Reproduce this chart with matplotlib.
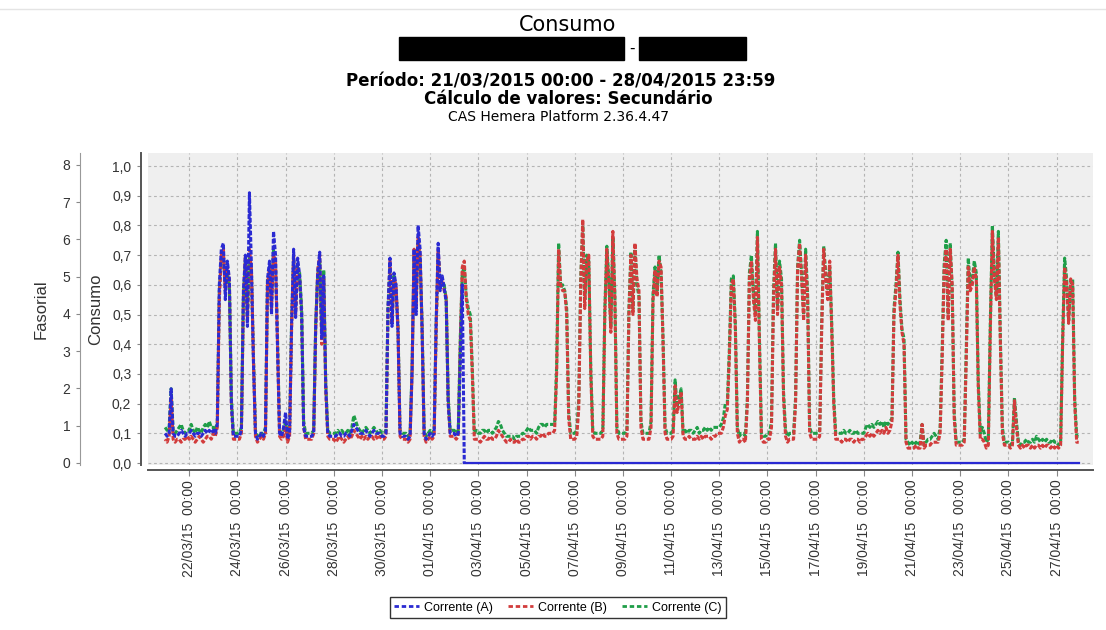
import numpy as np
import pandas as pd
import matplotlib
matplotlib.use("Agg")
import matplotlib.pyplot as plt
from matplotlib.patches import Rectangle
from matplotlib.ticker import FuncFormatter, MultipleLocator, FixedFormatter

# Consumo a cada 2 horas, em centesimos, uma linha por dia (00h, 02h, ... 22h)
inicio = "2015-03-21 00:00"

corrente_b = [
    [8, 7, 9, 22, 8, 7, 8, 8, 7, 8, 8, 9],          # 21/03
    [8, 9, 8, 7, 8, 9, 8, 7, 8, 9, 9, 8],           # 22/03
    [10, 9, 12, 55, 70, 72, 58, 66, 62, 20, 8, 8],  # 23/03
    [8, 8, 10, 55, 70, 48, 72, 65, 35, 9, 7, 8],    # 24/03
    [9, 8, 10, 60, 66, 52, 70, 68, 40, 9, 8, 9],    # 25/03
    [12, 7, 9, 45, 70, 50, 67, 62, 50, 12, 8, 8],   # 26/03
    [8, 8, 10, 45, 65, 70, 40, 62, 25, 9, 8, 8],    # 27/03
    [8, 7, 8, 9, 8, 7, 8, 9, 8, 9, 11, 10],         # 28/03
    [9, 8, 9, 8, 9, 8, 9, 9, 8, 9, 8, 9],           # 29/03
    [8, 8, 9, 50, 68, 47, 62, 60, 45, 9, 8, 8],     # 30/03
    [8, 7, 8, 30, 72, 52, 76, 70, 45, 9, 7, 8],     # 31/03
    [9, 8, 9, 45, 72, 60, 62, 58, 56, 20, 9, 9],    # 01/04
    [9, 8, 9, 40, 66, 68, 55, 50, 48, 30, 8, 8],    # 02/04
    [8, 7, 8, 9, 8, 8, 9, 8, 8, 9, 11, 10],         # 03/04
    [9, 8, 7, 7, 8, 7, 7, 8, 7, 7, 8, 8],           # 04/04
    [9, 9, 8, 9, 9, 8, 9, 9, 10, 9, 9, 10],         # 05/04
    [10, 10, 11, 30, 72, 60, 58, 58, 50, 15, 8, 8], # 06/04
    [8, 9, 18, 60, 82, 52, 68, 70, 30, 9, 8, 8],    # 07/04
    [8, 8, 9, 50, 72, 60, 44, 78, 55, 10, 8, 8],    # 08/04
    [8, 8, 9, 50, 70, 50, 74, 62, 58, 12, 8, 8],    # 09/04
    [8, 8, 12, 55, 65, 56, 68, 66, 40, 10, 8, 8],   # 10/04
    [8, 9, 26, 17, 20, 24, 9, 8, 8, 9, 8, 8],       # 11/04
    [8, 9, 8, 9, 8, 9, 9, 9, 8, 9, 9, 10],          # 12/04
    [10, 10, 12, 16, 18, 35, 60, 62, 45, 10, 7, 8], # 13/04
    [8, 7, 20, 62, 68, 55, 48, 76, 40, 8, 7, 7],    # 14/04
    [8, 8, 12, 55, 72, 50, 66, 60, 22, 9, 7, 8],    # 15/04
    [8, 8, 20, 65, 74, 62, 48, 70, 55, 10, 8, 8],   # 16/04
    [8, 8, 9, 45, 72, 62, 55, 68, 45, 20, 8, 8],    # 17/04
    [8, 7, 8, 8, 7, 8, 8, 7, 8, 8, 7, 8],           # 18/04
    [8, 9, 10, 9, 10, 9, 10, 11, 10, 11, 10, 12],   # 19/04
    [10, 11, 14, 50, 58, 70, 53, 44, 40, 7, 5, 5],  # 20/04
    [5, 5, 6, 5, 5, 13, 5, 6, 6, 6, 7, 7],          # 21/04
    [7, 7, 10, 35, 65, 72, 48, 72, 60, 15, 6, 6],   # 22/04
    [6, 6, 7, 35, 66, 58, 60, 66, 62, 25, 8, 8],    # 23/04
    [7, 5, 6, 45, 78, 62, 55, 76, 40, 10, 6, 6],    # 24/04
    [6, 5, 6, 21, 12, 6, 5, 6, 5, 6, 6, 5],         # 25/04
    [6, 5, 6, 6, 5, 6, 5, 6, 6, 5, 6, 5],           # 26/04
    [6, 5, 6, 40, 66, 60, 47, 62, 60, 20, 7, 7],    # 27/04
]

corrente_c = [
    [12, 11, 12, 25, 11, 10, 11, 12, 13, 11, 10, 11],
    [11, 13, 11, 10, 12, 11, 10, 12, 13, 12, 14, 12],
    [12, 11, 14, 58, 68, 70, 60, 64, 60, 22, 10, 10],
    [10, 10, 12, 56, 69, 50, 70, 64, 36, 11, 9, 10],
    [10, 10, 12, 62, 64, 55, 72, 66, 42, 11, 10, 11],
    [14, 9, 11, 48, 69, 52, 66, 64, 52, 14, 10, 10],
    [10, 10, 11, 47, 63, 68, 45, 65, 27, 11, 10, 10],
    [10, 10, 11, 10, 11, 10, 10, 11, 10, 12, 16, 14],
    [12, 11, 10, 11, 12, 11, 10, 11, 12, 11, 10, 11],
    [10, 10, 11, 52, 66, 50, 63, 58, 46, 11, 10, 10],
    [10, 9, 10, 32, 70, 55, 74, 68, 47, 11, 9, 10],
    [11, 10, 11, 47, 70, 62, 60, 60, 55, 22, 11, 11],
    [11, 10, 11, 42, 64, 66, 56, 52, 50, 32, 10, 11],
    [10, 10, 11, 11, 10, 11, 11, 10, 11, 12, 14, 13],
    [11, 10, 9, 9, 9, 9, 8, 9, 9, 9, 10, 10],
    [11, 12, 11, 11, 11, 10, 12, 13, 13, 12, 13, 13],
    [13, 13, 13, 33, 74, 59, 60, 58, 52, 17, 10, 10],
    [10, 11, 21, 62, 80, 55, 70, 68, 32, 11, 10, 10],
    [10, 10, 11, 52, 73, 62, 46, 76, 57, 12, 10, 10],
    [10, 10, 11, 52, 71, 52, 72, 60, 56, 14, 10, 10],
    [10, 10, 14, 57, 66, 58, 70, 64, 42, 12, 10, 10],
    [10, 11, 28, 19, 22, 25, 10, 11, 10, 11, 11, 10],
    [11, 12, 10, 11, 11, 12, 11, 12, 11, 12, 12, 12],
    [12, 13, 15, 20, 20, 38, 62, 63, 47, 12, 9, 10],
    [10, 9, 22, 64, 70, 57, 50, 78, 42, 10, 9, 9],
    [10, 10, 14, 58, 74, 52, 68, 62, 24, 11, 9, 10],
    [10, 10, 22, 66, 75, 64, 50, 72, 57, 12, 10, 10],
    [10, 10, 11, 47, 73, 64, 57, 66, 47, 22, 10, 10],
    [10, 10, 11, 10, 10, 11, 10, 10, 11, 10, 10, 10],
    [10, 12, 13, 12, 13, 12, 13, 14, 13, 14, 12, 14],
    [13, 14, 15, 52, 60, 71, 55, 45, 42, 8, 7, 6],
    [7, 6, 7, 6, 7, 13, 6, 7, 8, 8, 9, 10],
    [9, 8, 12, 38, 67, 75, 50, 74, 58, 17, 7, 7],
    [7, 7, 8, 38, 69, 60, 62, 68, 64, 27, 10, 12],
    [10, 7, 8, 48, 80, 64, 56, 78, 42, 12, 7, 7],
    [7, 6, 7, 22, 14, 7, 6, 7, 7, 8, 7, 7],
    [8, 7, 9, 8, 7, 8, 7, 8, 7, 7, 8, 7],
    [7, 6, 7, 42, 69, 62, 48, 60, 62, 22, 9, 9],
]

# fase A deixa de medir na manha de 02/04
corrente_a = [
    [10, 9, 10, 25, 10, 9, 9, 10, 11, 10, 9, 10],
    [10, 11, 10, 9, 10, 10, 9, 10, 11, 10, 11, 10],
    [11, 10, 13, 60, 72, 74, 55, 68, 62, 20, 9, 9],
    [9, 9, 11, 58, 70, 46, 91, 66, 34, 10, 8, 9],
    [10, 9, 11, 62, 68, 50, 78, 70, 38, 10, 9, 12],
    [17, 8, 10, 47, 72, 49, 69, 63, 50, 12, 9, 9],
    [9, 9, 10, 46, 64, 71, 42, 63, 26, 10, 9, 9],
    [9, 9, 10, 10, 9, 9, 10, 10, 9, 11, 13, 12],
    [11, 10, 10, 10, 11, 10, 9, 10, 11, 10, 10, 10],
    [9, 9, 10, 52, 69, 46, 64, 60, 44, 10, 9, 9],
    [9, 8, 9, 31, 72, 50, 80, 72, 44, 10, 8, 9],
    [10, 9, 10, 48, 74, 58, 63, 59, 54, 20, 10, 10],
    [10, 9, 10, 35, 60, 0, 0, 0, 0, 0, 0, 0],
    [0, 0, 0, 0, 0, 0, 0, 0, 0, 0, 0, 0],
    [0, 0, 0, 0, 0, 0, 0, 0, 0, 0, 0, 0],
    [0, 0, 0, 0, 0, 0, 0, 0, 0, 0, 0, 0],
    [0, 0, 0, 0, 0, 0, 0, 0, 0, 0, 0, 0],
    [0, 0, 0, 0, 0, 0, 0, 0, 0, 0, 0, 0],
    [0, 0, 0, 0, 0, 0, 0, 0, 0, 0, 0, 0],
    [0, 0, 0, 0, 0, 0, 0, 0, 0, 0, 0, 0],
    [0, 0, 0, 0, 0, 0, 0, 0, 0, 0, 0, 0],
    [0, 0, 0, 0, 0, 0, 0, 0, 0, 0, 0, 0],
    [0, 0, 0, 0, 0, 0, 0, 0, 0, 0, 0, 0],
    [0, 0, 0, 0, 0, 0, 0, 0, 0, 0, 0, 0],
    [0, 0, 0, 0, 0, 0, 0, 0, 0, 0, 0, 0],
    [0, 0, 0, 0, 0, 0, 0, 0, 0, 0, 0, 0],
    [0, 0, 0, 0, 0, 0, 0, 0, 0, 0, 0, 0],
    [0, 0, 0, 0, 0, 0, 0, 0, 0, 0, 0, 0],
    [0, 0, 0, 0, 0, 0, 0, 0, 0, 0, 0, 0],
    [0, 0, 0, 0, 0, 0, 0, 0, 0, 0, 0, 0],
    [0, 0, 0, 0, 0, 0, 0, 0, 0, 0, 0, 0],
    [0, 0, 0, 0, 0, 0, 0, 0, 0, 0, 0, 0],
    [0, 0, 0, 0, 0, 0, 0, 0, 0, 0, 0, 0],
    [0, 0, 0, 0, 0, 0, 0, 0, 0, 0, 0, 0],
    [0, 0, 0, 0, 0, 0, 0, 0, 0, 0, 0, 0],
    [0, 0, 0, 0, 0, 0, 0, 0, 0, 0, 0, 0],
    [0, 0, 0, 0, 0, 0, 0, 0, 0, 0, 0, 0],
    [0, 0, 0, 0, 0, 0, 0, 0, 0, 0, 0, 0],
]

nomes = ["Corrente (A)", "Corrente (B)", "Corrente (C)"]
cores = ["#2a2ad2", "#d23c3c", "#1f9e48"]

titulo = "Consumo"
periodo = "Período: 21/03/2015 00:00 - 28/04/2015 23:59"
calculo = "Cálculo de valores: Secundário"
plataforma = "CAS Hemera Platform 2.36.4.47"

W, H = 1106, 630

a = np.array(corrente_a).ravel() / 100.0
b = np.array(corrente_b).ravel() / 100.0
c = np.array(corrente_c).ravel() / 100.0
t = pd.date_range(inicio, periods=len(b), freq="2h")

fig = plt.figure(figsize=(W / 100, H / 100), dpi=100)
fig.patch.set_facecolor("white")

def fx(px):
    return px / W

def fy(py):
    return 1 - py / H

# area do grafico
ax = fig.add_axes([fx(148), fy(465), fx(1093 - 148), (465 - 153) / H])
ax.set_facecolor("#efefef")

lw = 2.2
dash = (0, (1.5, 0.6))
ax.plot(t, c, color=cores[2], lw=lw, ls=dash, zorder=3)
ax.plot(t, b, color=cores[1], lw=lw, ls=(1.0, (1.5, 0.6)), zorder=4)
k = int(np.nonzero(a)[0][-1])
ax.plot(t[:k + 2], a[:k + 2], color=cores[0], lw=lw, ls=dash, zorder=5)
ax.plot(t[k + 1:], a[k + 1:], color=cores[0], lw=1.6, zorder=5)

ax.set_xlim(pd.Timestamp("2015-03-20 06:58"), pd.Timestamp("2015-04-28 12:15"))
ax.set_ylim(-0.0067, 1.0438)

# eixo Fasorial (0 a 8) a esquerda
ax2 = ax.twinx()
ax2.set_ylim(-0.054, 8.32)
ax2.yaxis.set_ticks_position("left")
ax2.yaxis.set_label_position("left")
ax2.spines["left"].set_position(("outward", 49))
ax2.spines["left"].set_visible(True)
for s in ["top", "right", "bottom"]:
    ax2.spines[s].set_visible(False)
ax2.spines["left"].set_color("#999999")
ax2.spines["left"].set_linewidth(0.8)
ax2.set_yticks(range(0, 9))
ax2.tick_params(axis="y", labelsize=10, labelcolor="#333333", length=3, color="#888888",
                pad=4, labelfontfamily="Liberation Sans")
ax2.set_ylabel("Fasorial", fontsize=12, family="Liberation Sans", color="#333333", labelpad=10)

ticks = pd.date_range("2015-03-22", "2015-04-27", freq="2D")
ax.set_xticks(ticks)
ax.xaxis.set_major_formatter(FixedFormatter([d.strftime("%d/%m/%y  %H:%M") for d in ticks]))
ax.tick_params(axis="x", length=4, color="#888888", pad=3, labelrotation=90,
               labelsize=10, labelcolor="#333333", labelfontfamily="Liberation Sans")
ax.yaxis.set_major_locator(MultipleLocator(0.1))
ax.yaxis.set_major_formatter(FuncFormatter(lambda v, p: f"{v:.1f}".replace(".", ",")))
ax.tick_params(axis="y", labelsize=10, labelcolor="#333333", length=3, color="#888888",
               pad=4, labelfontfamily="Liberation Sans")

ax.grid(True, color="#b4b4b4", lw=0.8, ls=(0, (2.5, 2.5)))
ax.set_axisbelow(True)

for s in ["top", "right"]:
    ax.spines[s].set_visible(False)
ax.spines["left"].set_position(("outward", 5))
ax.spines["bottom"].set_position(("outward", 3.6))
ax.spines["left"].set_color("#555555")
ax.spines["bottom"].set_color("#555555")
ax.spines["left"].set_linewidth(1.4)
ax.spines["bottom"].set_linewidth(1.4)
ax.set_ylabel("Consumo", fontsize=12, family="Liberation Sans", color="#333333", labelpad=6)

# titulos
fig.text(fx(568), fy(25), titulo, ha="center", va="center", fontsize=15, family="DejaVu Sans")
fig.add_artist(Rectangle((fx(399), fy(60)), fx(225), (60 - 36.7) / H,
                         transform=fig.transFigure, color="black"))
fig.add_artist(Rectangle((fx(639), fy(60)), fx(107), (60 - 36.7) / H,
                         transform=fig.transFigure, color="black"))
fig.text(fx(632), fy(48), "-", ha="center", va="center", fontsize=11, family="DejaVu Sans")
fig.text(fx(561), fy(81), periodo, ha="center", va="center", fontsize=12,
         family="DejaVu Sans", weight="bold")
fig.text(fx(568), fy(99), calculo, ha="center", va="center", fontsize=12,
         family="DejaVu Sans", weight="bold")
fig.text(fx(559), fy(117), plataforma, ha="center", va="center", fontsize=10,
         family="DejaVu Sans")
fig.add_artist(plt.Line2D([0, 1], [fy(9), fy(9)], transform=fig.transFigure,
                          color="#e4e4e4", lw=1))

# legenda
handles = [plt.Line2D([], [], color=cores[i], lw=2.0, ls=(0, (1.6, 1.0))) for i in range(3)]
leg = fig.legend(handles, nomes, loc="center", bbox_to_anchor=(fx(558), fy(607.5)),
                 ncol=3, frameon=True, fancybox=False, handlelength=2.0,
                 handletextpad=0.4, columnspacing=1.2, borderpad=0.35,
                 prop={"family": "Liberation Sans", "size": 9})
leg.get_frame().set_edgecolor("black")
leg.get_frame().set_linewidth(1.0)

fig.savefig("out.png", dpi=100, facecolor="white")
